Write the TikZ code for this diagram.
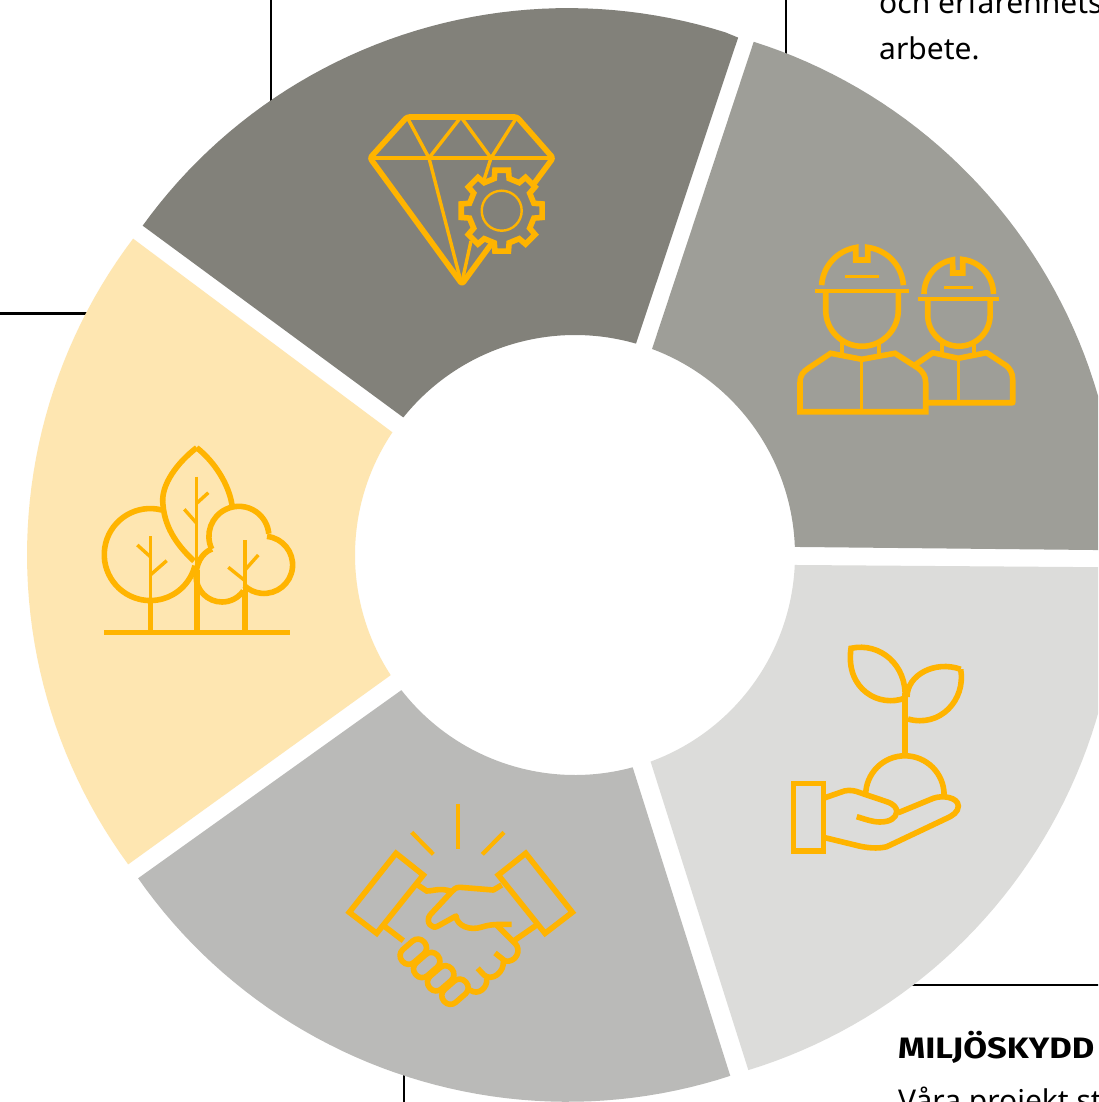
\documentclass[tikz,border=0pt]{standalone}
\usepackage{fontspec}
\setmainfont{Noto Sans}
\newfontfamily\headfont[FakeStretch=1.17]{Fira Sans}
\definecolor{segA}{HTML}{82817A}
\definecolor{segB}{HTML}{9E9E98}
\definecolor{segC}{HTML}{DCDCDA}
\definecolor{segD}{HTML}{BABAB8}
\definecolor{segE}{HTML}{FEE6B1}
\definecolor{icon}{HTML}{FFB400}
\newcommand{\ringseg}[5]{%
  \fill[#1] plot[domain=#2:#3,samples=48] ({\x}:{ringr(\x,#2,#3)}) -- (#5:220) arc[start angle=#5,end angle=#4,radius=220] -- cycle;}
\newcommand{\fingercap}[2]{%
  \begin{scope}[shift={(#1,#2)},rotate=-41]
    \draw[iconA,rounded corners=8] (-14.5,-8.5) rectangle (14.5,8.5);
  \end{scope}}
\tikzset{
  declare function={ringr(\t,\a,\b)=543.5+4.5*(1-((\t-(\a+\b)/2)/((\b-\a)/2))*((\t-(\a+\b)/2)/((\b-\a)/2)));},
  frame/.style={line width=2.4pt,black},
  iconA/.style={draw=icon,line width=5.6pt,line join=miter},
  iconB/.style={draw=icon,line width=3.4pt},
  iconC/.style={draw=icon,line width=4.2pt},
  bodytext/.style={anchor=base west,inner sep=0pt,text=black,font=\fontsize{30}{36}\selectfont},
  headtext/.style={anchor=base west,inner sep=0pt,text=black,font=\headfont\fontsize{29.5}{34}\selectfont\bfseries}
}
\begin{document}
\begin{tikzpicture}[x=1pt,y=1pt,yscale=-1]
\useasboundingbox (0,0) rectangle (1098,1102);
\clip (0,0) rectangle (1098,1102);
\fill[white] (0,0) rectangle (1098,1102);
% frame lines
\coordinate (fa1) at (271,-2); \coordinate (fa2) at (271,110);
\coordinate (fb1) at (786,-2); \coordinate (fb2) at (786,70);
\coordinate (fc1) at (-2,313.5); \coordinate (fc2) at (100,313.5);
\coordinate (fd1) at (900,985); \coordinate (fd2) at (1100,985);
\coordinate (fe1) at (404,1060); \coordinate (fe2) at (404,1104);
\foreach \p/\q in {fa1/fa2,fb1/fb2,fc1/fc2,fd1/fd2,fe1/fe2} \draw[frame] (\p) -- (\q);
% ring
\begin{scope}[shift={(575,555)}]
\ringseg{segA}{217.3}{287.5}{218.7}{286.1}
\ringseg{segB}{289.2}{359.5}{290.5}{357.9}
\ringseg{segC}{1.3}{71.4}{2.6}{69.9}
\ringseg{segD}{73.4}{143.5}{74.8}{142.1}
\ringseg{segE}{145.3}{215.6}{146.9}{213.9}
\end{scope}
% text
\node[bodytext] (t1) at (879,14) {och erfarenhets};
\node[bodytext] (t2) at (879,60) {arbete.};
\node[headtext] (t3) at (898,1058) {MILJÖSKYDD};
\node[bodytext] (t4) at (898,1111) {Våra projekt st};
% diamond
\draw[iconA,line join=round,rounded corners=2.5] (533,185) -- (553,158) -- (517,117) -- (407,117) -- (370,158) -- (462,284) -- (492,243);
\draw[iconB] (370,158) -- (553,158);
\draw[iconB] (407,117) -- (429,158) -- (461,117) -- (491,158) -- (517,117);
\draw[iconB] (429,158) -- (461,282);
\draw[iconB] (491,158) -- (484,180);
\draw[iconB] (462,282) -- (471,241);
\begin{scope}[shift={(501.7,210.7)}]
  \draw[iconA] (-13:33) \foreach \a in {0,45,...,315}{ -- ({\a-13}:33) -- ({\a-9.5}:41) -- ({\a+9.5}:41) -- ({\a+13}:33)} -- cycle;
  \draw[draw=icon,line width=2.4pt] (0,0) circle[radius=20];
\end{scope}
% workers: small one
\begin{scope}[shift={(958.7,294)}]
  \draw[iconA] (180:34.7) arc[start angle=180,end angle=260,radius=34.7] -- (-6,-21) -- (4,-21) -- (4,-34.5) arc[start angle=276.6,end angle=360,radius=34.7];
\end{scope}
\draw[iconC] (917.7,299.3) -- (999.3,299.3);
\draw[iconB] (944,287.3) -- (972.7,287.3);
\draw[iconA] (927.7,301) -- (927.7,315) arc[start angle=180,end angle=0,radius=31.2] -- (990.1,301);
\draw[iconC] (942.3,341) -- (942.3,355) (974,341) -- (974,355);
\draw[iconA,line join=round] (915,365) -- (932.7,352.7) -- (958.3,358.3) -- (986.7,352.7) -- (1006.7,366) .. controls (1010,369) and (1012.7,373) .. (1012.7,380) -- (1012.7,402.7) -- (925.7,402.7);
\draw[iconB] (958.3,358.3) -- (958.3,402.7);
% workers: big one
\begin{scope}[shift={(862.5,288)}]
  \draw[iconA] (184:41) arc[start angle=184,end angle=260.5,radius=41] -- (-6.8,-28) -- (5.2,-28) -- (5.2,-40.6) arc[start angle=277.3,end angle=356,radius=41];
\end{scope}
\draw[iconC] (815,291) -- (909.3,291);
\draw[iconB] (845,276.3) -- (879,276.3);
\draw[iconA] (825.7,293) -- (825.7,310) arc[start angle=180,end angle=0,radius=36.3] -- (898.3,293);
\draw[iconC] (842.3,340) -- (842.3,354) (879.3,340) -- (879.3,354);
\draw[iconA] (800,411.7) -- (800,383) .. controls (800,375) and (803,372) .. (808.3,368.3) -- (830.7,353.3) -- (861.7,359.3) -- (895,353.3) -- (918.3,368.3) .. controls (923,372) and (925.7,376) .. (925.7,383) -- (925.7,411.7) -- cycle;
\draw[iconB] (861.7,359.3) -- (861.7,411);
% plant
\draw[iconA] (851,648.3) .. controls (880,642) and (907,665) .. (905,698) .. controls (880,708) and (845,690) .. (851,648.3) -- cycle;
\draw[iconA] (960.7,669.3) .. controls (935,660) and (907,675) .. (907,697);
\draw[iconA] (960.7,669.3) .. controls (966,700) and (940,728) .. (908,719);
\draw[iconA] (905,693) -- (905,754);
\draw[iconA] (865.7,795) arc[start angle=180,end angle=360,radius=39.2];
\draw[iconA] (793.3,783.3) rectangle (823.3,850.7);
\draw[iconA,line join=round] (823.3,798.3) -- (844.3,791) .. controls (850,789.5) and (856,791) .. (860,792.7) -- (886.7,801.7) .. controls (894,804) and (897,808) .. (896.7,812) .. controls (896,818) and (890,822) .. (880,822) .. controls (872,822) and (865,819) .. (856.7,816.7);
\draw[iconA,line join=round] (898.3,812.7) -- (933.3,798.3) .. controls (942,795) and (958,797) .. (958.3,806) .. controls (958.5,812) and (952,816) .. (946.7,818.3) -- (886.7,846.7) .. controls (878,849) and (866,848) .. (855,845) -- (823.3,837.3);
% handshake
\draw[iconC] (458,804) -- (458,849.3);
\draw[iconC] (411.7,832.3) -- (433.3,854.3);
\draw[iconC] (504,832.3) -- (482.3,854.3);
\draw[iconA] (396,853.3) -- (423.3,875) -- (376.7,933.3) -- (349.3,912.3) -- cycle;
\draw[iconA] (525.7,853.3) -- (498.3,875) -- (545,933.3) -- (572.3,912.3) -- cycle;
\draw[iconA] (417.7,885) -- (426.7,891) .. controls (432,891.5) and (440,887) .. (452,891.7);
\draw[iconA,line join=round] (501.7,885) -- (493.3,890) -- (460,887.3) .. controls (456,887.3) and (454,889) .. (451.7,891.7) -- (430,915) .. controls (425,922) and (432,930) .. (438,926) -- (456,916) .. controls (457,926) and (470,931) .. (482,927) .. controls (490,924.5) and (495,924.3) .. (511.7,924.3);
\draw[iconA] (536.7,925) -- (515,940);
\draw[iconA,line join=round] (496.7,925) -- (515,943.3) .. controls (522,950) and (516,963) .. (505,961) -- (495,953);
\draw[iconA,line join=round] (503.3,960) .. controls (505,972) and (492,982) .. (484,975) -- (477.7,968.3);
\draw[iconA,line join=round] (486.7,978.3) .. controls (488,988) and (478,996) .. (470,990);
\draw[iconA] (385,926.7) -- (403.3,940.7);
\fingercap{413.3}{951.7}
\fingercap{426.7}{965}
\fingercap{440.7}{978.3}
\fingercap{455}{991.7}
% trees
\draw[iconA] (161.7,510) arc[start angle=284.4,end angle=14,radius=46];
\draw[iconA] (196.7,447.7) .. controls (215,462) and (229,485) .. (232,505);
\draw[iconA] (196.7,447.7) .. controls (178,462) and (160,485) .. (163,505) .. controls (165,530) and (180,548) .. (194,561);
\draw[iconA] (212,549) .. controls (201,553) and (196,565) .. (196,576) arc[start angle=180,end angle=35,radius=26];
\draw[iconA] (211.7,549) arc[start angle=155,end angle=355,radius=30];
\draw[iconA] (267,536.4) arc[start angle=276,end angle=493.5,radius=28.6];
\draw[iconB] (150.3,536) -- (150.3,605) (196.7,476.7) -- (196.7,575) (245,540) -- (245,592);
\draw[iconA] (150.3,600) -- (150.3,632) (196.7,570) -- (196.7,632) (245,590) -- (245,632);
\draw[iconA] (104,632.3) -- (290,632.3);
\draw[iconB] (137.3,545) -- (150.3,556.7) (166.7,560.7) -- (150.3,575);
\draw[iconB] (184.3,509.3) -- (196.7,523.3) (208.3,492.7) -- (196.7,503.3);
\draw[iconB] (228.3,567.3) -- (245,580.7) (258.3,555) -- (245,570);
\end{tikzpicture}
\end{document}
